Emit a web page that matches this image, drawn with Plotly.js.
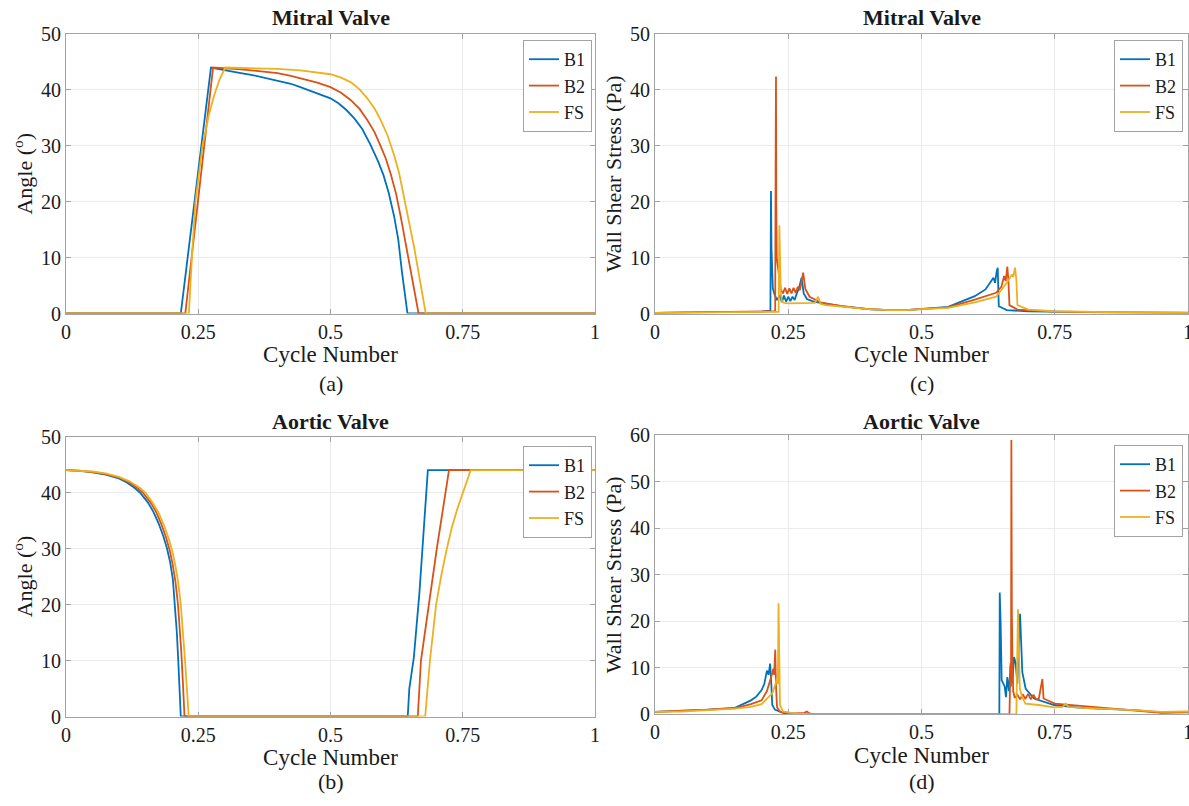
<!DOCTYPE html>
<html>
<head>
<meta charset="utf-8">
<script src="https://cdn.plot.ly/plotly-3.0.1.min.js"></script>
<style>
  html, body { margin: 0; padding: 0; background: #fff; }
  #chart { width: 1189px; height: 806px; }
</style>
</head>
<body>
<div id="chart"></div>
<script>
// ---- Series names and tick labels ----
const seriesNames = ['B1', 'B2', 'FS'];
const cycleTicks = [0, 0.25, 0.5, 0.75, 1];
const cycleTickText = ['0', '0.25', '0.5', '0.75', '1'];

// ---- (a) Mitral valve leaflet angle (deg) ----
const mvAngleB1X = [0, 0.217, 0.274, 0.30, 0.325, 0.35, 0.375, 0.40, 0.425, 0.443, 0.46, 0.48, 0.50, 0.515, 0.53, 0.545, 0.56, 0.575, 0.59, 0.60, 0.61, 0.62, 0.628, 0.635, 0.64, 0.6455, 1];
const mvAngleB1Y = [0, 0, 44, 43.5, 43.1, 42.7, 42.2, 41.7, 41.1, 40.5, 39.9, 39.3, 38.5, 37.6, 36.4, 34.9, 33.0, 30.3, 27.2, 24.8, 21.6, 17.5, 13.3, 7.5, 4.0, 0, 0];
const mvAngleB2X = [0, 0.2255, 0.278, 0.30, 0.325, 0.35, 0.375, 0.40, 0.425, 0.45, 0.475, 0.50, 0.52, 0.538, 0.555, 0.5695, 0.583, 0.595, 0.605, 0.614, 0.624, 0.633, 0.641, 0.649, 0.655, 0.661, 0.6665, 1];
const mvAngleB2Y = [0, 0, 44, 43.9, 43.7, 43.5, 43.3, 43.0, 42.5, 41.9, 41.3, 40.5, 39.5, 38.2, 36.6, 34.6, 32.5, 29.9, 27.6, 24.9, 21.4, 17.2, 13.2, 9.0, 5.8, 2.5, 0, 0];
const mvAngleFSX = [0, 0.2323, 0.238, 0.2447, 0.258, 0.27, 0.28, 0.29, 0.301, 0.35, 0.40, 0.443, 0.47, 0.50, 0.52, 0.538, 0.555, 0.5695, 0.583, 0.595, 0.608, 0.62, 0.63, 0.639, 0.648, 0.658, 0.666, 0.674, 0.68, 1];
const mvAngleFSY = [0, 0, 10, 20, 30, 35.5, 39, 41.8, 44, 43.9, 43.75, 43.5, 43.2, 42.8, 42.2, 41.4, 40.1, 38.5, 36.7, 34.6, 31.8, 28.4, 25.0, 20.8, 16.8, 11.9, 7.6, 3.0, 0, 0];

// ---- (b) Aortic valve leaflet angle (deg) ----
const avAngleB1X = [0, 0.025, 0.05, 0.075, 0.1, 0.115, 0.13, 0.1416, 0.155, 0.165, 0.175, 0.184, 0.191, 0.197, 0.202, 0.206, 0.2095, 0.212, 0.2145, 0.217, 0.646, 0.649, 0.6575, 0.668, 0.684, 1];
const avAngleB1Y = [44, 43.9, 43.6, 43.2, 42.5, 41.8, 40.8, 39.8, 38.2, 36.6, 34.5, 32.2, 30, 27.5, 24.5, 20, 15, 10.4, 5.5, 0, 0, 5, 10.5, 22, 44, 44];
const avAngleB2X = [0, 0.025, 0.05, 0.075, 0.1, 0.12, 0.135, 0.146, 0.16, 0.17, 0.18, 0.189, 0.196, 0.202, 0.207, 0.2117, 0.215, 0.218, 0.221, 0.224, 0.665, 0.671, 0.686, 0.701, 0.724, 1];
const avAngleB2Y = [44, 43.9, 43.7, 43.3, 42.7, 41.8, 40.8, 39.9, 38.2, 36.6, 34.4, 32, 29.7, 27, 24, 20, 16, 11.5, 6, 0, 0, 10, 20, 30, 44, 44];
const avAngleFSX = [0, 0.025, 0.05, 0.075, 0.1, 0.12, 0.14, 0.15, 0.163, 0.175, 0.185, 0.194, 0.201, 0.207, 0.212, 0.217, 0.221, 0.225, 0.2285, 0.232, 0.679, 0.688, 0.6997, 0.71, 0.72, 0.7295, 0.7395, 0.75, 0.758, 0.765, 1];
const avAngleFSY = [44, 43.9, 43.75, 43.4, 42.8, 42, 40.8, 40, 38.3, 36.4, 34.2, 31.8, 29.5, 26.8, 24, 20, 15.5, 10, 5, 0, 0, 10, 20, 25.5, 30, 33.8, 37, 40, 42.3, 44, 44];

// ---- (c) Mitral valve wall shear stress (Pa) ----
const mvWssB1X = [0, 0.1, 0.2, 0.2165, 0.2176, 0.2185, 0.2195, 0.221, 0.225, 0.229, 0.234, 0.238, 0.242, 0.246, 0.250, 0.254, 0.258, 0.262, 0.266, 0.270, 0.275, 0.279, 0.285, 0.295, 0.31, 0.35, 0.40, 0.44, 0.47, 0.50, 0.55, 0.60, 0.62, 0.635, 0.638, 0.641, 0.643, 0.645, 0.66, 0.70, 0.75, 0.85, 1];
const mvWssB1Y = [0.1, 0.2, 0.35, 0.5, 21.9, 12, 6.5, 4.5, 3.2, 2.4, 3.3, 2.0, 3.2, 2.1, 3.0, 2.2, 3.0, 2.4, 3.6, 4.5, 6.4, 3.6, 2.6, 2.2, 1.9, 1.3, 0.8, 0.6, 0.6, 0.8, 1.2, 3.1, 4.3, 6.4, 5.5, 7.5, 8.2, 1.3, 0.6, 0.4, 0.3, 0.2, 0.1];
const mvWssB2X = [0, 0.1, 0.2, 0.2255, 0.2265, 0.227, 0.2275, 0.2285, 0.232, 0.236, 0.240, 0.244, 0.248, 0.252, 0.256, 0.260, 0.264, 0.268, 0.272, 0.278, 0.282, 0.29, 0.30, 0.31, 0.35, 0.40, 0.44, 0.47, 0.50, 0.55, 0.60, 0.64, 0.65, 0.655, 0.658, 0.661, 0.663, 0.665, 0.68, 0.75, 0.85, 1];
const mvWssB2Y = [0.1, 0.2, 0.3, 0.4, 31.8, 42.4, 20, 10, 7.3, 4.3, 3.6, 4.6, 3.5, 4.5, 3.6, 4.6, 3.7, 4.8, 4.2, 7.3, 4.4, 3.0, 2.5, 2.0, 1.3, 0.8, 0.6, 0.6, 0.8, 1.1, 2.5, 3.7, 4.8, 6.7, 5.8, 8.4, 6.0, 1.5, 0.7, 0.35, 0.2, 0.1];
const mvWssFSX = [0, 0.1, 0.2, 0.232, 0.2333, 0.2345, 0.236, 0.238, 0.242, 0.25, 0.27, 0.29, 0.300, 0.306, 0.311, 0.32, 0.35, 0.40, 0.44, 0.47, 0.50, 0.55, 0.60, 0.64, 0.66, 0.67, 0.672, 0.6755, 0.678, 0.68, 0.70, 0.75, 0.85, 1];
const mvWssFSY = [0.1, 0.15, 0.25, 0.3, 15.8, 7.3, 3.7, 2.2, 1.9, 1.8, 1.8, 1.8, 1.9, 3.0, 1.7, 1.5, 1.2, 0.8, 0.6, 0.6, 0.8, 1.0, 2.0, 3.0, 5.5, 7.0, 6.5, 8.2, 6.0, 1.5, 0.7, 0.4, 0.25, 0.2];

// ---- (d) Aortic valve wall shear stress (Pa) ----
const avWssB1X = [0, 0.05, 0.1, 0.15, 0.18, 0.19, 0.2, 0.205, 0.21, 0.213, 0.216, 0.218, 0.22, 0.225, 0.24, 0.26, 0.3, 0.646, 0.6468, 0.6485, 0.6504, 0.6535, 0.656, 0.6585, 0.661, 0.6642, 0.6673, 0.6704, 0.6736, 0.6767, 0.6798, 0.6849, 0.6892, 0.6955, 0.7112, 0.7488, 0.8, 0.9, 0.95, 1];
const avWssB1Y = [0.5, 0.7, 1.0, 1.4, 3.0, 3.8, 5.2, 6.5, 9.4, 8.5, 10.9, 7, 2, 1, 0.3, 0.1, 0, 0, 26.2, 19.5, 7.3, 6.6, 6.0, 3.7, 8.0, 5.0, 10.5, 6.6, 12.3, 11, 6.6, 21.6, 9.0, 5.5, 3.4, 2.0, 1.4, 0.9, 0.4, 0.5];
const avWssB2X = [0, 0.05, 0.1, 0.15, 0.18, 0.2, 0.21, 0.218, 0.222, 0.2235, 0.2256, 0.227, 0.229, 0.235, 0.26, 0.28, 0.285, 0.29, 0.3, 0.665, 0.6655, 0.667, 0.668, 0.6686, 0.6695, 0.6705, 0.672, 0.675, 0.68, 0.685, 0.69, 0.695, 0.70, 0.705, 0.71, 0.715, 0.72, 0.7268, 0.729, 0.75, 0.78, 0.85, 0.9, 0.95, 1];
const avWssB2Y = [0.5, 0.7, 1.0, 1.3, 2.2, 3.0, 5.0, 8.0, 9.8, 8.5, 13.9, 6.0, 1.5, 0.5, 0.2, 0.3, 0.6, 0.2, 0, 0, 9.0, 11, 6.0, 59, 22.3, 12.3, 5.0, 3.5, 4.2, 3.2, 4.3, 3.3, 4.4, 3.2, 4.2, 3.2, 3.3, 7.6, 3.4, 2.3, 2.0, 1.3, 0.9, 0.3, 0.4];
const avWssFSX = [0, 0.05, 0.1, 0.15, 0.18, 0.2, 0.22, 0.226, 0.229, 0.2305, 0.2318, 0.233, 0.2345, 0.24, 0.26, 0.3, 0.678, 0.681, 0.6825, 0.6845, 0.689, 0.695, 0.72, 0.749, 0.765, 0.7707, 0.775, 0.8, 0.9, 0.95, 1];
const avWssFSY = [0.5, 0.6, 0.9, 1.2, 1.6, 2.2, 4.5, 6.5, 8.0, 6.5, 23.9, 8.0, 2.0, 0.6, 0.2, 0, 0, 22.6, 12.3, 5.5, 3.7, 2.3, 2.0, 1.5, 1.6, 2.3, 1.6, 1.4, 0.9, 0.5, 0.6];

// ---- Styling ----
const COLORS = ['#0072BD', '#D95319', '#EDB120'];
const FONT = '"Liberation Serif", "Times New Roman", serif';
const GRID = '#ebebeb';
const BOX = '#a3a3a3';
const INK = '#1a1a1a';

const panels = [
  { xs: [mvAngleB1X, mvAngleB2X, mvAngleFSX], ys: [mvAngleB1Y, mvAngleB2Y, mvAngleFSY], ax: '', legend: 'legend' },
  { xs: [avAngleB1X, avAngleB2X, avAngleFSX], ys: [avAngleB1Y, avAngleB2Y, avAngleFSY], ax: '2', legend: 'legend2' },
  { xs: [mvWssB1X, mvWssB2X, mvWssFSX], ys: [mvWssB1Y, mvWssB2Y, mvWssFSY], ax: '3', legend: 'legend3' },
  { xs: [avWssB1X, avWssB2X, avWssFSX], ys: [avWssB1Y, avWssB2Y, avWssFSY], ax: '4', legend: 'legend4' }
];

const traces = [];
panels.forEach(p => {
  seriesNames.forEach((name, i) => {
    traces.push({
      type: 'scatter', mode: 'lines', name: name,
      x: p.xs[i], y: p.ys[i],
      xaxis: 'x' + p.ax, yaxis: 'y' + p.ax,
      legend: p.legend,
      line: { color: COLORS[i], width: 1.8 },
      hoverinfo: 'skip'
    });
  });
});

function xAxis(domain, anchor) {
  return {
    domain: domain, anchor: anchor, range: [0, 1],
    tickvals: cycleTicks, ticktext: cycleTickText,
    ticks: 'inside', ticklen: 5, tickcolor: BOX,
    showline: true, linecolor: BOX, linewidth: 1, mirror: 'ticks',
    showgrid: true, gridcolor: GRID, zeroline: false,
    ticklabeloverflow: 'allow',
    tickfont: { family: FONT, size: 20, color: INK },
    title: { text: 'Cycle Number', font: { family: FONT, size: 23, color: INK }, standoff: 4 }
  };
}
function yAxis(domain, anchor, maxV, titleText) {
  const vals = [];
  for (let v = 0; v <= maxV; v += 10) vals.push(v);
  return {
    domain: domain, anchor: anchor, range: [0, maxV],
    tickvals: vals,
    ticks: 'inside', ticklen: 5, tickcolor: BOX,
    showline: true, linecolor: BOX, linewidth: 1, mirror: 'ticks',
    showgrid: true, gridcolor: GRID, zeroline: false,
    tickfont: { family: FONT, size: 20, color: INK },
    title: { text: titleText, font: { family: FONT, size: 22, color: INK }, standoff: 2 }
  };
}
function legendAt(x, y) {
  return {
    x: x, y: y, xanchor: 'right', yanchor: 'top',
    bgcolor: '#ffffff', bordercolor: BOX, borderwidth: 1,
    font: { family: FONT, size: 18, color: INK },
    tracegroupgap: 0, itemwidth: 30
  };
}

const W = 1189, H = 806;
const xl = [66 / W, 595 / W];
const xr = [655 / W, 1188 / W];
const yTop = [1 - 313.5 / H, 1 - 34 / H];
const yBot = [1 - 716.5 / H, 1 - 436.5 / H];

function note(text, x, yPx, size, bold) {
  return {
    text: bold ? '<b>' + text + '</b>' : text,
    xref: 'paper', yref: 'paper', x: x, y: 1 - yPx / H,
    xanchor: 'center', yanchor: 'middle', showarrow: false,
    font: { family: FONT, size: size, color: INK }
  };
}

const layout = {
  width: W, height: H, autosize: false,
  margin: { l: 0, r: 0, t: 0, b: 0 },
  font: { family: FONT, size: 20, color: INK },
  paper_bgcolor: '#ffffff', plot_bgcolor: '#ffffff',
  showlegend: true,
  xaxis: xAxis(xl, 'y'), yaxis: yAxis(yTop, 'x', 50, 'Angle (<sup>o</sup>)'),
  xaxis2: xAxis(xl, 'y2'), yaxis2: yAxis(yBot, 'x2', 50, 'Angle (<sup>o</sup>)'),
  xaxis3: xAxis(xr, 'y3'), yaxis3: yAxis(yTop, 'x3', 50, 'Wall Shear Stress (Pa)'),
  xaxis4: xAxis(xr, 'y4'), yaxis4: yAxis([1 - 714.3 / H, 1 - 435.3 / H], 'x4', 60, 'Wall Shear Stress (Pa)'),
  legend: legendAt(592 / W, 1 - 40 / H),
  legend2: legendAt(592 / W, 1 - 446 / H),
  legend3: legendAt(1183 / W, 1 - 40 / H),
  legend4: legendAt(1183 / W, 1 - 445 / H),
  annotations: [
    note('Mitral Valve', (xl[0] + xl[1]) / 2, 18, 22, true),
    note('Aortic Valve', (xl[0] + xl[1]) / 2, 422, 22, true),
    note('Mitral Valve', (xr[0] + xr[1]) / 2, 18, 22, true),
    note('Aortic Valve', (xr[0] + xr[1]) / 2, 422, 22, true),
    note('(a)', (xl[0] + xl[1]) / 2, 383, 22, false),
    note('(b)', (xl[0] + xl[1]) / 2, 781, 22, false),
    note('(c)', (xr[0] + xr[1]) / 2, 383, 22, false),
    note('(d)', (xr[0] + xr[1]) / 2, 781, 22, false)
  ]
};

Plotly.newPlot('chart', traces, layout, { displayModeBar: false, staticPlot: true });
</script>
</body>
</html>
